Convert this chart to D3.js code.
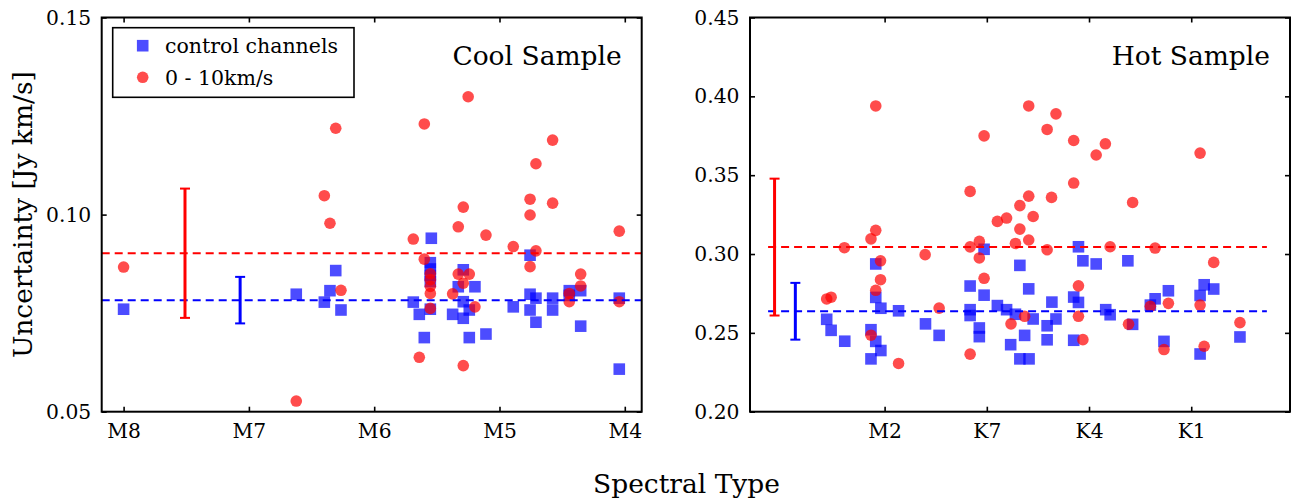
<!DOCTYPE html>
<html>
<head>
<meta charset="utf-8">
<script src="https://cdn.jsdelivr.net/npm/d3@7/dist/d3.min.js"></script>
<style>
  body { margin: 0; background: #fff; }
  text { font-family: "DejaVu Serif", serif; fill: #000; }
</style>
</head>
<body>
<div id="chart"></div>
<script>
// tick labels of the spectral type axes (index along the axis -> label)
var coolTickPos = [0, 1, 2, 3, 4];
var coolTickLabels = ["M8", "M7", "M6", "M5", "M4"];
var hotTickPos = [0, 3, 6, 9];
var hotTickLabels = ["M2", "K7", "K4", "K1"];
var coolYTicks = [0.05, 0.10, 0.15];
var hotYTicks = [0.20, 0.25, 0.30, 0.35, 0.40, 0.45];

// cool sample: [spectral index, uncertainty]
var coolControl = [
  [0, 0.0760], [1.378, 0.0798], [1.602, 0.0778], [1.647, 0.0807], [1.693, 0.0858],
  [1.735, 0.0758], [2.312, 0.0778], [2.360, 0.0747], [2.400, 0.0688], [2.456, 0.0940],
  [2.448, 0.0878], [2.448, 0.0862], [2.448, 0.0846], [2.448, 0.0830], [2.448, 0.0760],
  [2.626, 0.0747], [2.671, 0.0817], [2.711, 0.0860], [2.711, 0.0779], [2.711, 0.0737],
  [2.759, 0.0758], [2.759, 0.0688], [2.804, 0.0817], [2.892, 0.0697], [3.110, 0.0766],
  [3.244, 0.0897], [3.244, 0.0798], [3.244, 0.0758], [3.291, 0.0788], [3.291, 0.0727],
  [3.424, 0.0788], [3.424, 0.0758], [3.557, 0.0807], [3.557, 0.0795], [3.648, 0.0807],
  [3.648, 0.0717], [3.956, 0.0788], [3.956, 0.0608]
];
var coolLine = [
  [0, 0.0867], [1.378, 0.0527], [1.602, 0.1048], [1.647, 0.0978], [1.693, 0.1219],
  [1.735, 0.0808], [2.312, 0.0938], [2.360, 0.0638], [2.400, 0.1230], [2.400, 0.0887],
  [2.448, 0.0850], [2.448, 0.0835], [2.448, 0.0818], [2.448, 0.0800], [2.448, 0.0762],
  [2.626, 0.0799], [2.671, 0.0969], [2.671, 0.0849], [2.711, 0.1019], [2.711, 0.0826],
  [2.711, 0.0617], [2.750, 0.1299], [2.759, 0.0849], [2.804, 0.0766], [2.892, 0.0948],
  [3.110, 0.0919], [3.244, 0.1039], [3.244, 0.0999], [3.244, 0.0868], [3.291, 0.1129],
  [3.291, 0.0908], [3.424, 0.1189], [3.424, 0.1029], [3.557, 0.0800], [3.557, 0.0779],
  [3.648, 0.0849], [3.648, 0.0819], [3.956, 0.0958], [3.956, 0.0779]
];

// hot sample: [spectral index, uncertainty]
var hotControl = [
  [-1.70, 0.2586], [-1.57, 0.2516], [-1.17, 0.2447], [-0.40, 0.2520], [-0.40, 0.2335],
  [-0.26, 0.2937], [-0.26, 0.2725], [-0.26, 0.2446], [-0.11, 0.2656], [-0.11, 0.2388],
  [0.41, 0.2640], [1.20, 0.2557], [1.60, 0.2484], [2.51, 0.2797], [2.51, 0.2647],
  [2.51, 0.2610], [2.78, 0.2531], [2.78, 0.2476], [2.92, 0.3030], [2.92, 0.2739],
  [3.31, 0.2673], [3.58, 0.2647], [3.70, 0.2425], [3.84, 0.2618], [3.97, 0.2928],
  [3.97, 0.2335], [4.11, 0.2484], [4.23, 0.2779], [4.24, 0.2335], [4.36, 0.2588],
  [4.77, 0.2545], [4.77, 0.2456], [4.91, 0.2695], [5.03, 0.2588], [5.55, 0.2727],
  [5.55, 0.2453], [5.69, 0.3046], [5.69, 0.2693], [5.82, 0.2957], [6.21, 0.2937],
  [6.49, 0.2647], [6.62, 0.2615], [7.14, 0.2957], [7.28, 0.2554], [7.80, 0.2676],
  [7.94, 0.2716], [8.20, 0.2446], [8.33, 0.2767], [9.26, 0.2737], [9.26, 0.2366],
  [9.38, 0.2805], [9.66, 0.2778], [10.43, 0.2474]
];
var hotLine = [
  [-1.70, 0.2715], [-1.57, 0.2726], [-1.18, 0.3040], [-0.40, 0.3096], [-0.40, 0.2485],
  [-0.26, 0.3939], [-0.26, 0.3150], [-0.26, 0.2770], [-0.12, 0.2957], [-0.12, 0.2837],
  [0.41, 0.2306], [1.19, 0.2996], [1.60, 0.2657], [2.51, 0.3397], [2.51, 0.3045],
  [2.51, 0.2365], [2.78, 0.3080], [2.78, 0.2975], [2.92, 0.3749], [2.92, 0.2846],
  [3.31, 0.3207], [3.58, 0.3228], [3.71, 0.2557], [3.84, 0.3067], [3.97, 0.3307],
  [3.97, 0.3158], [4.11, 0.2605], [4.23, 0.3939], [4.23, 0.3367], [4.23, 0.3089],
  [4.36, 0.3238], [4.77, 0.3790], [4.77, 0.3027], [4.90, 0.3359], [5.03, 0.3889],
  [5.55, 0.3720], [5.55, 0.3450], [5.69, 0.2798], [5.69, 0.2605], [5.82, 0.2457],
  [6.21, 0.3628], [6.48, 0.3699], [6.62, 0.3046], [7.16, 0.2555], [7.28, 0.3327],
  [7.80, 0.2668], [7.94, 0.3038], [8.20, 0.2394], [8.33, 0.2687], [9.26, 0.3640],
  [9.26, 0.2676], [9.38, 0.2415], [9.66, 0.2947], [10.43, 0.2565]
];

// median level + spread: [x of error bar, median, half range]
var coolStatControl = [0.93, 0.0783, 0.0059];
var coolStatLine = [0.49, 0.0902, 0.0164];
var hotStatControl = [-2.62, 0.2637, 0.0180];
var hotStatLine = [-3.23, 0.3044, 0.0434];

var width = 1301, height = 500;
var blue = "#0000ff", red = "#ff0000";

var svg = d3.select("#chart")
  .append("svg")
    .attr("width", width)
    .attr("height", height);

function drawPanel(p) {
  var x = d3.scaleLinear().domain(p.xDomain).range([p.left, p.right]);
  var y = d3.scaleLinear().domain(p.yDomain).range([411.7, 17.5]);
  var g = svg.append("g");

  // axes, ticks pointing inwards
  g.append("g")
    .attr("transform", "translate(0,411.7)")
    .call(d3.axisBottom(x).tickValues(p.xTicks)
      .tickFormat(function(d, i) { return p.xLabels[i]; })
      .tickSize(-5).tickPadding(11.7));
  g.append("g")
    .attr("transform", "translate(0,17.5)")
    .call(d3.axisTop(x).tickValues(p.xTicks).tickFormat("").tickSize(-5));
  g.append("g")
    .attr("transform", "translate(" + p.left + ",0)")
    .call(d3.axisLeft(y).tickValues(p.yTicks).tickFormat(d3.format(".2f"))
      .tickSize(-5).tickPadding(10.5));
  g.append("g")
    .attr("transform", "translate(" + p.right + ",0)")
    .call(d3.axisRight(y).tickValues(p.yTicks).tickFormat("").tickSize(-5));
  g.selectAll(".domain").remove();
  g.selectAll(".tick line").attr("stroke", "#000").attr("stroke-width", 1.6);
  g.selectAll(".tick text").attr("font-size", "20.3px")
    .attr("font-family", "DejaVu Serif");

  // control channels
  g.append("g").selectAll("rect")
    .data(p.control)
    .enter()
    .append("rect")
      .attr("x", function(d) { return x(d[0]) - 5.8; })
      .attr("y", function(d) { return y(d[1]) - 5.8; })
      .attr("width", 11.6)
      .attr("height", 11.6)
      .attr("fill", blue)
      .attr("fill-opacity", 0.7);

  // 0 - 10 km/s
  g.append("g").selectAll("circle")
    .data(p.line)
    .enter()
    .append("circle")
      .attr("cx", function(d) { return x(d[0]); })
      .attr("cy", function(d) { return y(d[1]); })
      .attr("r", 5.8)
      .attr("fill", red)
      .attr("fill-opacity", 0.7);

  // dashed median levels
  [[p.statControl, blue], [p.statLine, red]].forEach(function(s) {
    g.append("line")
      .attr("x1", x(p.lineSpan[0])).attr("x2", x(p.lineSpan[1]))
      .attr("y1", y(s[0][1])).attr("y2", y(s[0][1]))
      .attr("stroke", s[1]).attr("stroke-width", 2)
      .attr("stroke-dasharray", "8,5");
  });

  // error bars
  [[p.statControl, blue], [p.statLine, red]].forEach(function(s) {
    var st = s[0], cx = x(st[0]);
    var top = y(st[1] + st[2]), bot = y(st[1] - st[2]);
    g.append("line").attr("x1", cx).attr("x2", cx).attr("y1", top).attr("y2", bot)
      .attr("stroke", s[1]).attr("stroke-width", 3);
    [top, bot].forEach(function(yy) {
      g.append("line").attr("x1", cx - 5).attr("x2", cx + 5).attr("y1", yy).attr("y2", yy)
        .attr("stroke", s[1]).attr("stroke-width", 2);
    });
  });

  // frame
  g.append("rect")
    .attr("x", p.left).attr("y", 17.5)
    .attr("width", p.right - p.left).attr("height", 411.7 - 17.5)
    .attr("fill", "none").attr("stroke", "#000").attr("stroke-width", 2);

  // sample name
  g.append("text")
    .attr("x", p.right - 20).attr("y", 65)
    .attr("text-anchor", "end")
    .attr("font-size", "26.5px")
    .text(p.title);
}

drawPanel({
  left: 101.7, right: 641.7,
  xDomain: [-0.1748, 4.135], yDomain: [0.05, 0.15],
  xTicks: coolTickPos, xLabels: coolTickLabels, yTicks: coolYTicks,
  control: coolControl, line: coolLine,
  statControl: coolStatControl, statLine: coolStatLine,
  lineSpan: [-0.1748, 4.135],
  title: "Cool Sample"
});

drawPanel({
  left: 750, right: 1290,
  xDomain: [-3.951, 11.899], yDomain: [0.20, 0.45],
  xTicks: hotTickPos, xLabels: hotTickLabels, yTicks: hotYTicks,
  control: hotControl, line: hotLine,
  statControl: hotStatControl, statLine: hotStatLine,
  lineSpan: [-3.42, 11.22],
  title: "Hot Sample"
});

// legend (left panel)
var legend = svg.append("g");
legend.append("rect")
  .attr("x", 112.7).attr("y", 27.7)
  .attr("width", 241.3).attr("height", 69.6)
  .attr("fill", "#fff").attr("stroke", "#000").attr("stroke-width", 1.6);
legend.append("rect")
  .attr("x", 142.7 - 5.8).attr("y", 45.7 - 5.8)
  .attr("width", 11.6).attr("height", 11.6)
  .attr("fill", blue).attr("fill-opacity", 0.7);
legend.append("circle")
  .attr("cx", 142.7).attr("cy", 77.3).attr("r", 5.8)
  .attr("fill", red).attr("fill-opacity", 0.7);
legend.append("text")
  .attr("x", 165).attr("y", 53.3)
  .attr("font-size", "20.5px")
  .text("control channels");
legend.append("text")
  .attr("x", 165).attr("y", 84.5)
  .attr("font-size", "20.5px")
  .text("0 - 10km/s");

// axis labels
svg.append("text")
  .attr("transform", "translate(32,214.6) rotate(-90)")
  .attr("text-anchor", "middle")
  .attr("font-size", "26.5px")
  .text("Uncertainty [Jy km/s]");

svg.append("text")
  .attr("x", 686.5).attr("y", 493)
  .attr("text-anchor", "middle")
  .attr("font-size", "26.5px")
  .text("Spectral Type");
</script>
</body>
</html>
